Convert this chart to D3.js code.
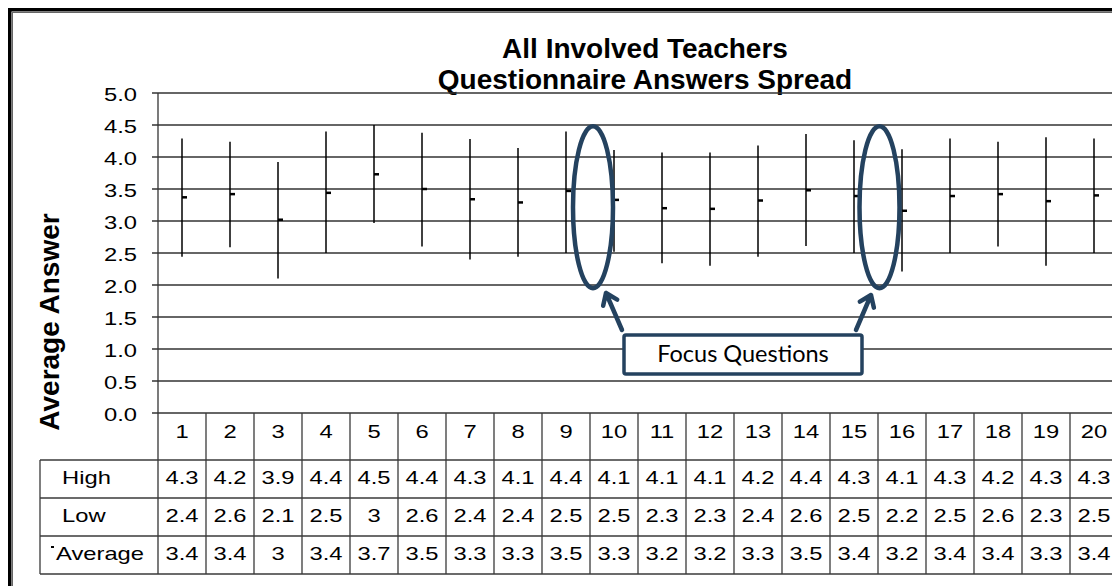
<!DOCTYPE html>
<html>
<head>
<meta charset="utf-8" />
<title>All Involved Teachers - Questionnaire Answers Spread</title>
<script src="https://d3js.org/d3.v7.min.js"></script>
<style>
    body { margin: 0; background: #fff; }
    svg text { font-family: "Liberation Sans", Arial, sans-serif; fill: #000; }
    .grid line { stroke: #333; stroke-width: 1.3; }
    .cell line { stroke: #3a3a3a; stroke-width: 1.3; }
</style>
</head>
<body>
<svg id="chart" width="1112" height="586"></svg>
<script>

// question numbers and the three series
var questions = d3.range(1, 21);
var highs = [4.29, 4.24, 3.92, 4.40, 4.50, 4.38, 4.28, 4.14, 4.40, 4.11,
             4.07, 4.07, 4.18, 4.36, 4.26, 4.12, 4.29, 4.24, 4.31, 4.29];
var lows  = [2.44, 2.59, 2.10, 2.50, 2.97, 2.60, 2.40, 2.44, 2.50, 2.52,
             2.34, 2.30, 2.44, 2.61, 2.50, 2.21, 2.50, 2.60, 2.30, 2.50];
var avgs  = [3.37, 3.42, 3.02, 3.44, 3.73, 3.50, 3.34, 3.29, 3.47, 3.33,
             3.20, 3.19, 3.32, 3.48, 3.39, 3.16, 3.39, 3.42, 3.31, 3.40];
var yTicks = [0, 0.5, 1, 1.5, 2, 2.5, 3, 3.5, 4, 4.5, 5];
var rowLabels = ["High", "Low", "Average"];
var titleLines = ["All Involved Teachers", "Questionnaire Answers Spread"];
// questions circled by the callout (the ellipse sits after these columns)
var focusAfter = [9, 15];

var svg = d3.select("#chart");

// scales
var x = d3.scaleBand().domain(questions).range([158, 1118]).padding(0);
var y = d3.scaleLinear().domain([0, 5]).range([413, 93]);

var rowTop = 460, rowH = 38;
var tableLeft = 40;
var stretch = 1.25;   // axis and table text is drawn wide in the original

// small helper: text placed at (px,py), stretched horizontally
function wideText(sel, px, py) {
    return sel.attr("transform", function(d, i) {
        return "translate(" + px(d, i) + "," + py(d, i) + ") scale(" + stretch + ",1)";
    }).style("font-size", "19px");
}

// outer frame
svg.append("rect").attr("x", 9.75).attr("y", 9.75).attr("width", 1200).attr("height", 700)
    .attr("fill", "none").attr("stroke", "#000").attr("stroke-width", 3.5);
svg.append("rect").attr("x", 12.5).attr("y", 12.5).attr("width", 1200).attr("height", 700)
    .attr("fill", "none").attr("stroke", "#666").attr("stroke-width", 1);

// title
svg.append("g").selectAll("text")
    .data(titleLines)
    .enter().append("text")
    .attr("x", 645)
    .attr("y", function(d, i) { return 57.5 + i * 31.5; })
    .attr("text-anchor", "middle")
    .style("font-size", "28px")
    .style("font-weight", "bold")
    .text(function(d) { return d; });

// gridlines + y axis labels
var grid = svg.append("g").attr("class", "grid");
grid.selectAll("line")
    .data(yTicks)
    .enter().append("line")
    .attr("x1", 152).attr("x2", 1112)
    .attr("y1", function(d) { return y(d); })
    .attr("y2", function(d) { return y(d); });

wideText(svg.append("g").selectAll("text")
    .data(yTicks)
    .enter().append("text"),
    function() { return 137; }, function(d) { return y(d) + 8; })
    .attr("text-anchor", "end")
    .text(d3.format(".1f"));

svg.append("text")
    .attr("transform", "translate(59," + 322 + ") rotate(-90)")
    .attr("text-anchor", "middle")
    .style("font-size", "28px")
    .style("font-weight", "bold")
    .text("Average Answer");

// plot area left edge, continues down as table border
svg.append("line").attr("x1", 158).attr("x2", 158).attr("y1", y(5)).attr("y2", rowTop + 3 * rowH)
    .attr("stroke", "#333").attr("stroke-width", 1.3);

// high-low lines
var cx = function(i) { return x(questions[i]) + x.bandwidth() / 2; };
svg.append("g").selectAll("line")
    .data(questions)
    .enter().append("line")
    .attr("x1", function(d, i) { return cx(i); })
    .attr("x2", function(d, i) { return cx(i); })
    .attr("y1", function(d, i) { return y(highs[i]); })
    .attr("y2", function(d, i) { return y(lows[i]); })
    .attr("stroke", "#000").attr("stroke-width", 1.5);

// average ticks
svg.append("g").selectAll("line")
    .data(questions)
    .enter().append("line")
    .attr("x1", function(d, i) { return cx(i); })
    .attr("x2", function(d, i) { return cx(i) + 5; })
    .attr("y1", function(d, i) { return y(avgs[i]); })
    .attr("y2", function(d, i) { return y(avgs[i]); })
    .attr("stroke", "#000").attr("stroke-width", 2.5);

// data table
var cells = svg.append("g").attr("class", "cell");
// column separators
cells.selectAll(".vsep")
    .data(questions)
    .enter().append("line")
    .attr("x1", function(d) { return x(d) + x.bandwidth(); })
    .attr("x2", function(d) { return x(d) + x.bandwidth(); })
    .attr("y1", y(0)).attr("y2", rowTop + 3 * rowH);
// row lines
cells.selectAll(".hsep")
    .data([0, 1, 2, 3])
    .enter().append("line")
    .attr("x1", tableLeft).attr("x2", 1112)
    .attr("y1", function(d) { return rowTop + d * rowH; })
    .attr("y2", function(d) { return rowTop + d * rowH; });
cells.append("line").attr("x1", tableLeft).attr("x2", tableLeft)
    .attr("y1", rowTop).attr("y2", rowTop + 3 * rowH);

// header numbers
wideText(svg.append("g").selectAll("text")
    .data(questions)
    .enter().append("text"),
    function(d) { return x(d) + x.bandwidth() / 2; }, function() { return 438; })
    .attr("text-anchor", "middle")
    .text(function(d) { return d; });

var fmt = function(v) { return d3.format(".1f")(v).replace(/\.0$/, ""); };
var series = [highs, lows, avgs];

series.forEach(function(vals, r) {
    wideText(svg.append("g").selectAll("text")
        .data(vals)
        .enter().append("text"),
        function(d, i) { return cx(i); },
        function() { return rowTop + r * rowH + rowH / 2 + 5; })
        .attr("text-anchor", "middle")
        .text(fmt);
});

// row labels
wideText(svg.append("g").selectAll("text")
    .data(rowLabels)
    .enter().append("text"),
    function(d, i) { return i == 2 ? 56 : 62; },
    function(d, i) { return rowTop + i * rowH + rowH / 2 + 5; })
    .text(function(d) { return d; });
// legend key for the average marker
svg.append("line")
    .attr("x1", 51).attr("x2", 54)
    .attr("y1", rowTop + 2 * rowH + 11).attr("y2", rowTop + 2 * rowH + 11)
    .attr("stroke", "#000").attr("stroke-width", 2);

// callout: ellipses, arrows and box
var navy = "#24425f";
var ann = svg.append("g");
ann.selectAll("ellipse")
    .data(focusAfter)
    .enter().append("ellipse")
    .attr("cx", function(d, i) { return x(d) + x.bandwidth() + (i == 0 ? 3 : 1.5); })
    .attr("cy", (y(4.48) + y(1.95)) / 2)
    .attr("rx", 20)
    .attr("ry", (y(1.95) - y(4.48)) / 2)
    .attr("fill", "none").attr("stroke", navy).attr("stroke-width", 4.5);

var arrows = [
    { from: [622, 330], to: [606, 293] },
    { from: [856, 330], to: [871, 295] }
];
arrows.forEach(function(a) {
    var ang = Math.atan2(a.to[1] - a.from[1], a.to[0] - a.from[0]);
    var len = 13, spread = Math.PI / 5;
    var p1 = [a.to[0] - len * Math.cos(ang - spread), a.to[1] - len * Math.sin(ang - spread)];
    var p2 = [a.to[0] - len * Math.cos(ang + spread), a.to[1] - len * Math.sin(ang + spread)];
    ann.append("path")
        .attr("d", "M" + a.from + "L" + a.to + "M" + p1 + "L" + a.to + "L" + p2)
        .attr("fill", "none").attr("stroke", navy).attr("stroke-width", 4.5)
        .attr("stroke-linecap", "round").attr("stroke-linejoin", "round");
});

ann.append("rect")
    .attr("x", 624).attr("y", y(1.22))
    .attr("width", 238).attr("height", y(0.61) - y(1.22))
    .attr("rx", 2)
    .attr("fill", "#fff").attr("stroke", navy).attr("stroke-width", 3.5);
ann.append("text")
    .attr("x", 743).attr("y", (y(1.22) + y(0.61)) / 2 + 8)
    .attr("text-anchor", "middle")
    .style("font-family", "Lato, 'Open Sans', sans-serif")
    .style("font-size", "23.5px")
    .text("Focus Questions");

</script>
</body>
</html>
